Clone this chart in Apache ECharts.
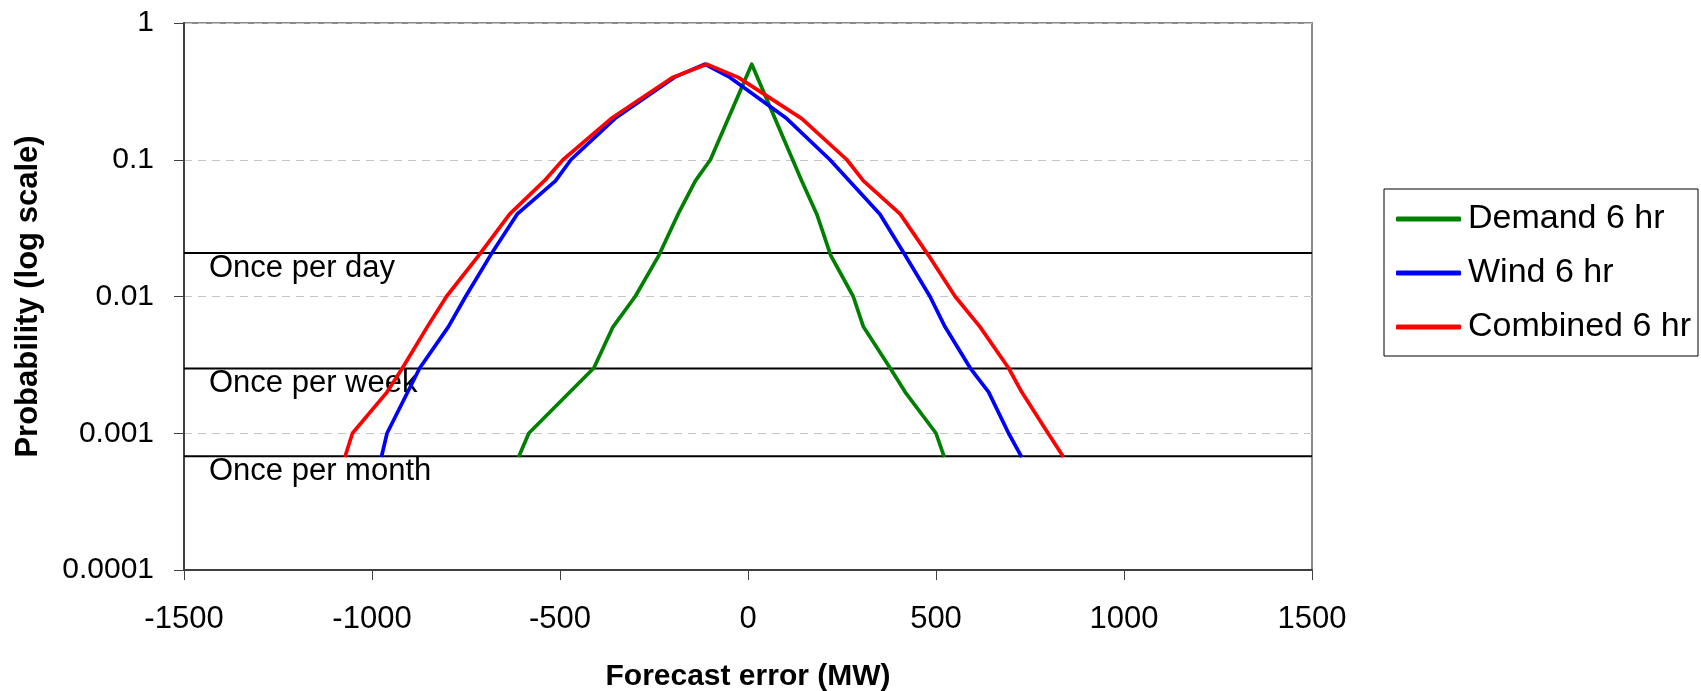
<!DOCTYPE html>
<html><head><meta charset="utf-8">
<script src="https://cdn.jsdelivr.net/npm/echarts@6/dist/echarts.min.js"></script>
<style>html,body{margin:0;padding:0;background:#fff}#c{width:1701px;height:691px}</style>
</head><body><div id="c"></div>
<script>
// ---- data ----
const seriesNames = ['Demand 6 hr', 'Wind 6 hr', 'Combined 6 hr'];
const seriesColors = ['#008000', '#0000FF', '#FF0000'];

// [forecast error (MW), probability]
const demand = [
  [-610, 0.00067], [-583, 0.001], [-410, 0.003], [-359, 0.006], [-300, 0.01],
  [-237, 0.02], [-186, 0.04], [-140, 0.07], [-100, 0.1], [10, 0.5],
  [143, 0.07], [183, 0.04], [220, 0.02], [280, 0.01], [307, 0.006],
  [378, 0.003], [418, 0.002], [500, 0.001], [522, 0.00067]
];
const wind = [
  [-975, 0.00067], [-960, 0.001], [-873, 0.003], [-797, 0.006], [-751, 0.01],
  [-685, 0.02], [-614, 0.04], [-512, 0.07], [-471, 0.1], [-354, 0.2],
  [-196, 0.4], [-115, 0.5], [-48, 0.4], [103, 0.2], [218, 0.1],
  [351, 0.04], [418, 0.02], [484, 0.01], [524, 0.006], [591, 0.003],
  [640, 0.002], [693, 0.001], [728, 0.00067]
];
const combined = [
  [-1072, 0.00067], [-1052, 0.001], [-960, 0.002], [-919, 0.003], [-853, 0.006],
  [-802, 0.01], [-716, 0.02], [-634, 0.04], [-542, 0.07], [-492, 0.1],
  [-364, 0.2], [-201, 0.4], [-110, 0.5], [-26, 0.4], [143, 0.2],
  [263, 0.1], [307, 0.07], [405, 0.04], [480, 0.02], [551, 0.01],
  [617, 0.006], [693, 0.003], [728, 0.002], [798, 0.001], [839, 0.00067]
];

const refNames = ['Once per day', 'Once per week', 'Once per month'];
const refValues = [0.0208, 0.00298, 0.00068];

const xMin = -1500, xMax = 1500, xInterval = 500;
const yTickLabels = ['0.0001', '0.001', '0.01', '0.1', '1'];
const yMin = 0.0001, yMax = 1;

const xTitle = 'Forecast error (MW)';
const yTitle = 'Probability (log scale)';

// ---- chart ----
const FONT = '"Liberation Sans", Arial, sans-serif';
const chart = echarts.init(document.getElementById('c'), null, { renderer: 'canvas' });

// horizontal reference lines spanning the x range, label at the left end
const refSeries = refValues.map((v, i) => ({
  name: refNames[i],
  type: 'line',
  data: [
    { value: [xMin, v], label: { show: true } },
    { value: [xMax, v] }
  ],
  symbol: 'circle',
  symbolSize: 0.01,
  showSymbol: true,
  itemStyle: { color: 'rgba(0,0,0,0)' },
  lineStyle: { color: '#000', width: 2 },
  label: {
    show: false,
    formatter: refNames[i],
    position: [25, 0],
    align: 'left',
    verticalAlign: 'top',
    color: '#000',
    fontFamily: FONT,
    fontSize: 31
  },
  labelLayout: { hideOverlap: false },
  z: 3,
  silent: true,
  emphasis: { disabled: true },
  animation: false
}));

const dataSets = [demand, wind, combined];
const lineSeries = dataSets.map((d, i) => ({
  name: seriesNames[i],
  type: 'line',
  data: d,
  symbol: 'none',
  showSymbol: false,
  z: 5,
  lineStyle: { color: seriesColors[i], width: 3.7, join: 'round' },
  itemStyle: { color: seriesColors[i] },
  emphasis: { disabled: true },
  animation: false
}));

chart.setOption({
  backgroundColor: '#fff',
  animation: false,
  grid: {
    left: 184, right: 389, top: 23, bottom: 121,
    show: true, borderColor: '#8a8a8a', borderWidth: 2,
    outerBoundsMode: 'none'
  },
  legend: {
    data: seriesNames,
    orient: 'vertical',
    left: 1384, top: 189,
    padding: [13, 7, 12, 12],
    itemWidth: 65, itemHeight: 5,
    itemGap: 20,
    icon: 'roundRect',
    borderColor: '#000', borderWidth: 1,
    textStyle: { color: '#000', fontFamily: FONT, fontSize: 34, padding: [0, 0, 0, 2] },
    selectedMode: false
  },
  xAxis: {
    type: 'value',
    min: xMin, max: xMax, interval: xInterval,
    name: xTitle,
    nameLocation: 'middle',
    nameGap: 92,
    nameTextStyle: { color: '#000', fontFamily: FONT, fontSize: 30, fontWeight: 'bold' },
    axisLine: { show: true, onZero: false, lineStyle: { color: '#404040', width: 2 } },
    axisTick: { show: true, inside: false, length: 10, lineStyle: { color: '#404040', width: 1 } },
    axisLabel: { color: '#000', fontFamily: FONT, fontSize: 31, margin: 34, formatter: v => String(v) },
    splitLine: { show: false }
  },
  yAxis: {
    type: 'log',
    logBase: 10,
    min: yMin, max: yMax,
    name: yTitle,
    nameLocation: 'middle',
    nameGap: 140,
    nameRotate: 90,
    nameTextStyle: { color: '#000', fontFamily: FONT, fontSize: 31, fontWeight: 'bold' },
    axisLine: { show: true, onZero: false, lineStyle: { color: '#404040', width: 2 } },
    axisTick: { show: true, inside: false, length: 10, lineStyle: { color: '#404040', width: 1 } },
    axisLabel: {
      color: '#000', fontFamily: FONT, fontSize: 30, margin: 30,
      formatter: v => yTickLabels[Math.round(Math.log10(v)) + 4]
    },
    splitLine: { show: true, lineStyle: { color: '#c4c4c4', width: 1, type: [8, 6] } },
    minorTick: { show: false },
    minorSplitLine: { show: false }
  },
  series: [...refSeries, ...lineSeries]
});
</script>
</body></html>
